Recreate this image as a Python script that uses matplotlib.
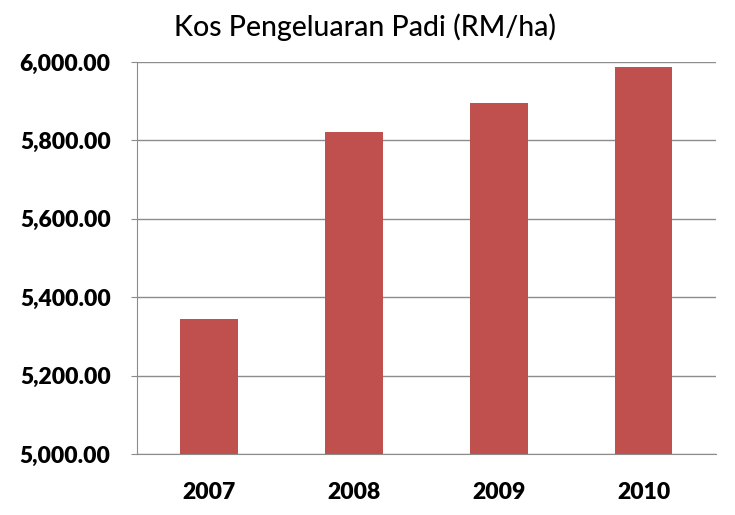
import matplotlib
matplotlib.use("Agg")
import matplotlib.pyplot as plt
from matplotlib.ticker import FuncFormatter, MultipleLocator

years = ["2007", "2008", "2009", "2010"]
cost = [5344, 5821, 5895, 5987]

plt.rcParams['font.family'] = ['Lato', 'DejaVu Sans']

fig = plt.figure(figsize=(7.35, 5.15), dpi=100)
ax = fig.add_axes([0.1864, 0.1184, 0.974 - 0.1864, 0.8796 - 0.1184])

x = range(len(years))
ax.bar(x, cost, width=0.4, color='#C0504D', zorder=3)

ax.set_xlim(-0.5, len(years) - 0.5)
ax.set_ylim(5000, 6000)
ax.yaxis.set_major_locator(MultipleLocator(200))
ax.yaxis.set_major_formatter(FuncFormatter(lambda v, p: f"{v:,.2f}"))
ax.set_xticks(list(x))
ax.set_xticklabels(years)

ax.grid(axis='y', color='#8c8c8c', linewidth=1, zorder=0)
for s in ['top', 'right']:
    ax.spines[s].set_visible(False)
for s in ['left', 'bottom']:
    ax.spines[s].set_color('#8c8c8c')
ax.tick_params(axis='y', length=4, color='#8c8c8c', pad=15, labelsize=16.5)
ax.tick_params(axis='x', length=0, pad=20, labelsize=16.5)
for lab in ax.get_xticklabels() + ax.get_yticklabels():
    lab.set_fontweight('heavy')

fig.text(0.497, 0.948, "Kos Pengeluaran Padi (RM/ha)",
         ha='center', va='center', fontsize=20.5, fontweight='medium')

fig.savefig("out.png", dpi=100)
